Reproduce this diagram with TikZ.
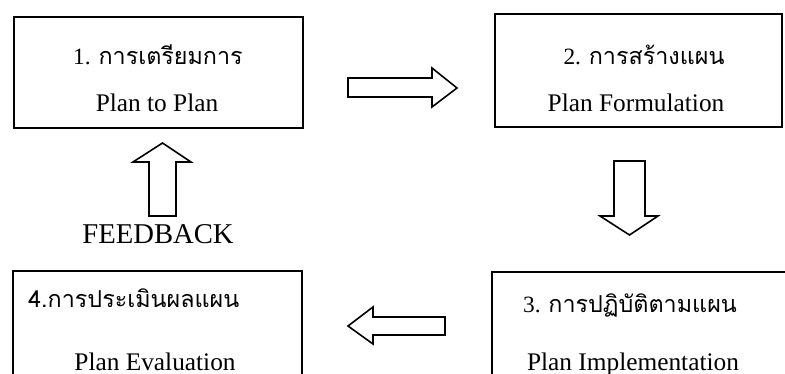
\documentclass[tikz,border=0pt]{standalone}
\usepackage{fontspec}
\setmainfont{Liberation Serif}
\newfontfamily\thaifont[Script=Thai]{Loma}
\newlength\px
\setlength\px{0.75pt}
\begin{document}
\begin{tikzpicture}[x=0.75pt,y=-0.75pt,
  stage/.style={draw, line width=1.6pt, inner sep=0pt},
  blockarrow/.style={draw, line width=1.2pt, line join=miter},
  thai/.style={font=\fontsize{17.5}{21}\selectfont, anchor=base, inner sep=0pt},
  eng/.style={font=\fontsize{19}{23}\selectfont, anchor=base, inner sep=0pt},
]
\clip (0,0) rectangle (785,374);

% the four stages of the planning cycle
\node[stage, minimum width=289*\px, minimum height=111*\px] (prep) at (158.5,72.5) {};
\node[stage, minimum width=287*\px, minimum height=113*\px] (form) at (638.5,70.5) {};
\node[stage, minimum width=298*\px, minimum height=111*\px] (impl) at (641,327.5) {};
\node[stage, minimum width=289*\px, minimum height=111*\px] (eval) at (157.5,326.5) {};

% stage titles
\node[thai] (prepTh) at (158,65) {1. {\thaifont การเตรียมการ}};
\node[eng]  (prepEn) at (157,112) {Plan to Plan};
\node[thai] (formTh) at (644,65) {2. {\thaifont การสร้างแผน}};
\node[eng]  (formEn) at (636,112) {Plan Formulation};
\node[thai] (implTh) at (630,312) {3. {\thaifont การปฏิบัติตามแผน}};
\node[eng]  (implEn) at (633,370) {Plan Implementation};
\node[thai, anchor=base west] (evalTh) at (28,307) {\thaifont 4.การประเมินผลแผน};
\node[eng]  (evalEn) at (155,370) {Plan Evaluation};

% block arrows between the stages
\draw[blockarrow] (348,78) -- (432,78) -- (432,68) -- (457,88) -- (432,107)
  -- (432,97) -- (348,97) -- cycle;
\draw[blockarrow] (614,161) -- (645,161) -- (645,216) -- (658,216) -- (629.5,235)
  -- (600,216) -- (614,216) -- cycle;
\draw[blockarrow] (445,317) -- (373,317) -- (373,307) -- (348,326) -- (373,344)
  -- (373,335) -- (445,335) -- cycle;
\draw[blockarrow] (149,216) -- (149,162) -- (133,162) -- (162.5,143) -- (191,162)
  -- (176,162) -- (176,216) -- cycle;

\node[font=\fontsize{21.5}{26}\selectfont, anchor=base, inner sep=0pt] (fb) at (158,243) {FEEDBACK};
\end{tikzpicture}
\end{document}
